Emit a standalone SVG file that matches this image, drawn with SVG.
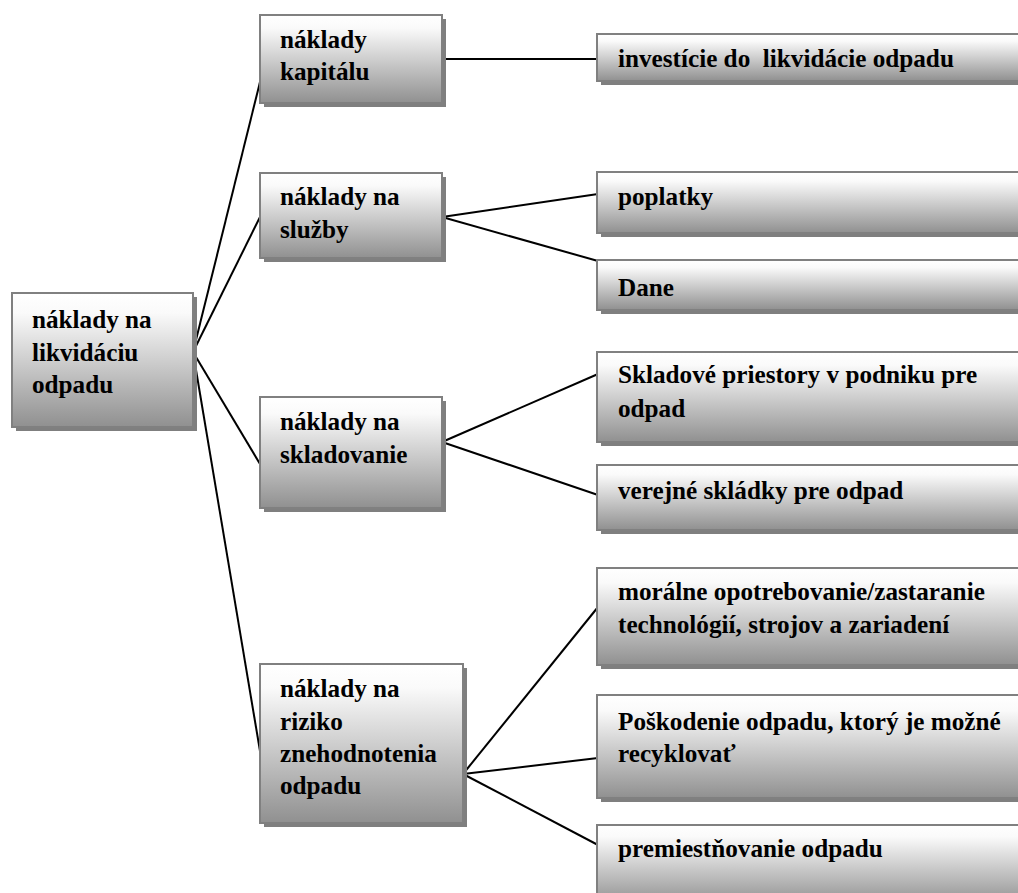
<svg xmlns="http://www.w3.org/2000/svg" width="1018" height="893" viewBox="0 0 1018 893">
  <defs>
    <linearGradient id="boxFill" x1="0" y1="0" x2="0" y2="1">
      <stop offset="0" stop-color="#ffffff"/>
      <stop offset="0.15" stop-color="#fafafa"/>
      <stop offset="1" stop-color="#909090"/>
    </linearGradient>
  </defs>
  <style>
    .shadow { fill: #7f7f7f; }
    .box { fill: url(#boxFill); stroke: #808080; stroke-width: 2; }
    .label { font-family: 'Liberation Serif', 'DejaVu Serif', serif; font-weight: 700; font-size: 25.2px; fill: #000; white-space: pre; }
    .link { stroke: #000; stroke-width: 2; fill: none; }
  </style>
  <rect width="1018" height="893" fill="#ffffff"/>

  <!-- connectors -->
  <g id="connectors">
    <line class="link" x1="193" y1="352" x2="260" y2="82"/>
    <line class="link" x1="193" y1="352" x2="260" y2="217"/>
    <line class="link" x1="193" y1="352" x2="260" y2="464"/>
    <line class="link" x1="193" y1="352" x2="261" y2="757"/>
    <line class="link" x1="442" y1="59" x2="598" y2="59"/>
    <line class="link" x1="442" y1="217" x2="598" y2="194"/>
    <line class="link" x1="442" y1="217" x2="598" y2="261"/>
    <line class="link" x1="442" y1="442" x2="598" y2="374"/>
    <line class="link" x1="442" y1="442" x2="598" y2="495"/>
    <line class="link" x1="463" y1="774" x2="598" y2="607"/>
    <line class="link" x1="463" y1="774" x2="598" y2="758"/>
    <line class="link" x1="463" y1="774" x2="598" y2="845"/>
  </g>

  <!-- root -->
  <g id="node-root">
    <rect class="shadow" x="16" y="297" width="181" height="134"/>
    <rect class="box" x="12" y="293" width="181" height="134"/>
    <text class="label" font-family="Liberation Serif, DejaVu Serif, serif"><tspan x="32" y="328">náklady na</tspan><tspan x="32" y="361">likvidáciu</tspan><tspan x="32" y="393">odpadu</tspan></text>
  </g>

  <!-- second level -->
  <g id="node-kapital">
    <rect class="shadow" x="264" y="19" width="182" height="88"/>
    <rect class="box" x="260" y="15" width="182" height="88"/>
    <text class="label" font-family="Liberation Serif, DejaVu Serif, serif"><tspan x="280" y="48">náklady</tspan><tspan x="280" y="80">kapitálu</tspan></text>
  </g>
  <g id="node-sluzby">
    <rect class="shadow" x="264" y="177" width="182" height="85"/>
    <rect class="box" x="260" y="173" width="182" height="85"/>
    <text class="label" font-family="Liberation Serif, DejaVu Serif, serif"><tspan x="280" y="205">náklady na</tspan><tspan x="280" y="238">služby</tspan></text>
  </g>
  <g id="node-skladovanie">
    <rect class="shadow" x="264" y="401" width="182" height="111"/>
    <rect class="box" x="260" y="397" width="182" height="111"/>
    <text class="label" font-family="Liberation Serif, DejaVu Serif, serif"><tspan x="280" y="430">náklady na</tspan><tspan x="280" y="463">skladovanie</tspan></text>
  </g>
  <g id="node-riziko">
    <rect class="shadow" x="264" y="668" width="203" height="159"/>
    <rect class="box" x="260" y="664" width="203" height="159"/>
    <text class="label" font-family="Liberation Serif, DejaVu Serif, serif"><tspan x="280" y="697">náklady na</tspan><tspan x="280" y="730">riziko</tspan><tspan x="280" y="762">znehodnotenia</tspan><tspan x="280" y="794">odpadu</tspan></text>
  </g>

  <!-- third level -->
  <g id="node-investicie">
    <rect class="shadow" x="601" y="38" width="440" height="47"/>
    <rect class="box" x="597" y="34" width="440" height="47"/>
    <text class="label" font-family="Liberation Serif, DejaVu Serif, serif" x="618" y="67" xml:space="preserve">investície do  likvidácie odpadu</text>
  </g>
  <g id="node-poplatky">
    <rect class="shadow" x="601" y="176" width="440" height="61"/>
    <rect class="box" x="597" y="172" width="440" height="61"/>
    <text class="label" font-family="Liberation Serif, DejaVu Serif, serif" x="618" y="205">poplatky</text>
  </g>
  <g id="node-dane">
    <rect class="shadow" x="601" y="264" width="440" height="50"/>
    <rect class="box" x="597" y="260" width="440" height="50"/>
    <text class="label" font-family="Liberation Serif, DejaVu Serif, serif" x="618" y="296">Dane</text>
  </g>
  <g id="node-sklady">
    <rect class="shadow" x="601" y="356" width="440" height="90"/>
    <rect class="box" x="597" y="352" width="440" height="90"/>
    <text class="label" font-family="Liberation Serif, DejaVu Serif, serif"><tspan x="618" y="383">Skladové priestory v podniku pre</tspan><tspan x="618" y="417">odpad</tspan></text>
  </g>
  <g id="node-skladky">
    <rect class="shadow" x="601" y="469" width="440" height="65"/>
    <rect class="box" x="597" y="465" width="440" height="65"/>
    <text class="label" font-family="Liberation Serif, DejaVu Serif, serif" x="618" y="499">verejné skládky pre odpad</text>
  </g>
  <g id="node-moralne">
    <rect class="shadow" x="601" y="572" width="440" height="97"/>
    <rect class="box" x="597" y="568" width="440" height="97"/>
    <text class="label" font-family="Liberation Serif, DejaVu Serif, serif"><tspan x="618" y="600">morálne opotrebovanie/zastaranie</tspan><tspan x="618" y="633">technológií, strojov a zariadení</tspan></text>
  </g>
  <g id="node-poskodenie">
    <rect class="shadow" x="601" y="699" width="440" height="103"/>
    <rect class="box" x="597" y="695" width="440" height="103"/>
    <text class="label" font-family="Liberation Serif, DejaVu Serif, serif"><tspan x="618" y="730">Poškodenie odpadu, ktorý je možné</tspan><tspan x="618" y="762">recyklovať</tspan></text>
  </g>
  <g id="node-premiestnovanie">
    <rect class="shadow" x="601" y="829" width="440" height="80"/>
    <rect class="box" x="597" y="825" width="440" height="80"/>
    <text class="label" font-family="Liberation Serif, DejaVu Serif, serif" x="618" y="857">premiestňovanie odpadu</text>
  </g>
</svg>
